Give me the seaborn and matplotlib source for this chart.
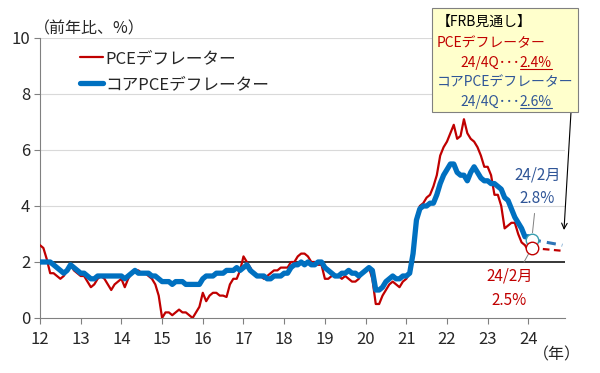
import pandas as pd
import seaborn as sns
import matplotlib.pyplot as plt
from matplotlib.patches import Rectangle

# monthly y/y change, Jan 2012 - Feb 2024
months = pd.date_range("2012-01-01", "2024-02-01", freq="MS")

pce = [
    2.6, 2.5, 2.1, 1.6, 1.6, 1.5, 1.4, 1.5, 1.7, 1.9, 1.7, 1.6,   # 2012
    1.5, 1.5, 1.3, 1.1, 1.2, 1.4, 1.5, 1.4, 1.2, 1.0, 1.2, 1.3,   # 2013
    1.4, 1.1, 1.4, 1.6, 1.7, 1.7, 1.6, 1.6, 1.5, 1.4, 1.2, 0.8,   # 2014
    0.0, 0.2, 0.2, 0.1, 0.2, 0.3, 0.2, 0.2, 0.1, 0.0, 0.2, 0.4,   # 2015
    0.9, 0.6, 0.8, 0.9, 0.9, 0.8, 0.8, 0.75, 1.2, 1.4, 1.4, 1.7,  # 2016
    2.2, 2.0, 1.8, 1.6, 1.5, 1.5, 1.4, 1.5, 1.6, 1.7, 1.7, 1.8,   # 2017
    1.8, 1.8, 2.0, 2.0, 2.2, 2.3, 2.3, 2.2, 2.0, 2.0, 1.9, 1.9,   # 2018
    1.4, 1.4, 1.5, 1.5, 1.5, 1.4, 1.5, 1.4, 1.3, 1.3, 1.4, 1.6,   # 2019
    1.7, 1.8, 1.4, 0.5, 0.5, 0.8, 1.0, 1.2, 1.3, 1.2, 1.1, 1.3,   # 2020
    1.4, 1.6, 2.5, 3.6, 4.0, 4.1, 4.3, 4.4, 4.7, 5.1, 5.8, 6.1,   # 2021
    6.3, 6.6, 6.9, 6.4, 6.5, 7.1, 6.6, 6.4, 6.3, 6.1, 5.8, 5.4,   # 2022
    5.4, 5.1, 4.4, 4.4, 4.0, 3.2, 3.3, 3.4, 3.4, 3.0, 2.7, 2.6,   # 2023
    2.4, 2.5,                                                     # 2024
]
core = [
    2.0, 2.0, 2.0, 2.0, 1.9, 1.8, 1.7, 1.6, 1.7, 1.9, 1.8, 1.7,   # 2012
    1.6, 1.6, 1.5, 1.4, 1.4, 1.5, 1.5, 1.5, 1.5, 1.5, 1.5, 1.5,   # 2013
    1.5, 1.4, 1.5, 1.6, 1.7, 1.6, 1.6, 1.6, 1.6, 1.5, 1.5, 1.4,   # 2014
    1.3, 1.3, 1.3, 1.2, 1.3, 1.3, 1.3, 1.2, 1.2, 1.2, 1.2, 1.2,   # 2015
    1.4, 1.5, 1.5, 1.5, 1.6, 1.6, 1.6, 1.7, 1.7, 1.7, 1.8, 1.7,   # 2016
    1.8, 1.9, 1.7, 1.6, 1.5, 1.5, 1.5, 1.4, 1.4, 1.5, 1.5, 1.5,   # 2017
    1.6, 1.6, 1.8, 1.9, 1.9, 2.0, 1.9, 2.0, 1.9, 1.9, 2.0, 2.0,   # 2018
    1.8, 1.7, 1.6, 1.5, 1.5, 1.6, 1.6, 1.7, 1.6, 1.6, 1.5, 1.6,   # 2019
    1.7, 1.8, 1.7, 1.0, 1.0, 1.1, 1.3, 1.4, 1.5, 1.4, 1.4, 1.5,   # 2020
    1.5, 1.6, 2.3, 3.5, 3.9, 4.0, 4.0, 4.1, 4.1, 4.4, 4.8, 5.1,   # 2021
    5.3, 5.5, 5.5, 5.2, 5.1, 5.1, 4.9, 5.2, 5.4, 5.2, 5.0, 4.9,   # 2022
    4.9, 4.8, 4.8, 4.7, 4.6, 4.3, 4.2, 3.9, 3.6, 3.4, 3.2, 2.9,   # 2023
    2.9, 2.8,                                                     # 2024
]

# FRB outlook: Feb 2024 actual -> 24/4Q
fc_dates = pd.to_datetime(["2024-02-01", "2024-11-01"])
pce_fc = [2.5, 2.4]
core_fc = [2.8, 2.6]

year_ticks = list(range(12, 25))
y_ticks = [0, 2, 4, 6, 8, 10]

RED = "#C00000"
BLUE = "#0070C0"
TXT_BLUE = "#2F5597"


def to_x(dates):
    return (dates.year - 2000) + (dates.month - 1) / 12


df = pd.DataFrame({"x": to_x(months), "pce": pce, "core": core})
fc = pd.DataFrame({"x": to_x(fc_dates), "pce": pce_fc, "core": core_fc})

sns.set_style("white")
plt.rcParams["font.family"] = ["Noto Sans CJK JP", "DejaVu Sans"]

W, H = 600, 373
fig = plt.figure(figsize=(6, 3.73), dpi=100)
ax = fig.add_axes([40 / W, 1 - 318 / H, 525 / W, 280 / H])


def fpos(px, py):
    return px / W, 1 - py / H


for yv in y_ticks[2:]:
    ax.axhline(yv, color="#D9D9D9", lw=0.8, zorder=0)
ax.axhline(2, color="black", lw=1.1, zorder=1)

sns.lineplot(data=df, x="x", y="pce", ax=ax, color=RED, lw=1.6,
             label="PCEデフレーター", zorder=3)
sns.lineplot(data=df, x="x", y="core", ax=ax, color=BLUE, lw=3.8,
             label="コアPCEデフレーター", zorder=4)
sns.lineplot(data=fc, x="x", y="pce", ax=ax, color=RED, lw=1.6,
             linestyle=(0, (3, 2)), zorder=3, legend=False)
sns.lineplot(data=fc, x="x", y="core", ax=ax, color="#2E75B6", lw=2.2,
             linestyle=(0, (3, 2)), zorder=4, legend=False)

# latest points
ax.plot(fc["x"].iloc[0], core_fc[0], "o", ms=9, mfc="white",
        mec="#3A9FB0", mew=1.0, zorder=6)
ax.plot(fc["x"].iloc[0], pce_fc[0], "o", ms=9, mfc="white",
        mec=RED, mew=1.0, zorder=6)

ax.annotate(f"24/2月\n{core_fc[0]}%", xy=(fc["x"].iloc[0], core_fc[0]),
            xytext=(4, 38), textcoords="offset points", ha="center",
            va="center", fontsize=11, color=TXT_BLUE, linespacing=1.55,
            arrowprops=dict(arrowstyle="-", color="#808080", lw=0.7,
                            shrinkA=2, shrinkB=5))
ax.annotate(f"24/2月\n{pce_fc[0]}%", xy=(fc["x"].iloc[0], pce_fc[0]),
            xytext=(-16, -29), textcoords="offset points", ha="center",
            va="center", fontsize=11, color=RED, linespacing=1.55,
            arrowprops=dict(arrowstyle="-", color="#808080", lw=0.7,
                            shrinkA=2, shrinkB=5))

ax.set_xlim(12, 24.9)
ax.set_ylim(0, 10)
ax.set_xticks(year_ticks)
ax.set_xticklabels([str(y) for y in year_ticks])
ax.set_yticks(y_ticks)
ax.set_xlabel("")
ax.set_ylabel("")
ax.tick_params(axis="both", labelsize=12, length=4, color="#808080",
               direction="out", pad=3, bottom=True, left=True)
ax.tick_params(axis="x", pad=5)
for s in ["top", "right"]:
    ax.spines[s].set_visible(False)
for s in ["left", "bottom"]:
    ax.spines[s].set_color("#808080")
    ax.spines[s].set_linewidth(0.8)

ax.legend(loc="upper left", bbox_to_anchor=fpos(80, 50),
          bbox_transform=fig.transFigure, frameon=False, fontsize=12,
          handlelength=1.4, handletextpad=0.15, labelspacing=0.55,
          borderpad=0, borderaxespad=0)

fig.text(*fpos(34, 29), "（前年比、%）", fontsize=11.5, va="center", ha="left")
fig.text(*fpos(557, 355), "（年）", fontsize=11.5, va="center", ha="center")

# FRB outlook box
bx0, by0 = fpos(432, 112)
fig.add_artist(Rectangle((bx0, by0), 146 / W, 104 / H,
                         transform=fig.transFigure, facecolor="#FFFFCC",
                         edgecolor="#808080", lw=0.8, zorder=5))
box_lines = [
    (437, 22, "【FRB見通し】", "black", None),
    (437, 43, "PCEデフレーター", RED, None),
    (460, 63, "24/4Q･･･", RED, f"{pce_fc[1]}%"),
    (437, 82, "コアPCEデフレーター", TXT_BLUE, None),
    (460, 102, "24/4Q･･･", TXT_BLUE, f"{core_fc[1]}%"),
]
fig.canvas.draw()
renderer = fig.canvas.get_renderer()
for px, py, txt, col, tail in box_lines:
    t = fig.text(*fpos(px, py), txt, fontsize=10, color=col,
                 va="center", ha="left", zorder=6)
    if tail:
        bb = t.get_window_extent(renderer)
        t2 = fig.text(bb.x1 / W, 1 - py / H, tail, fontsize=10, color=col,
                      va="center", ha="left", zorder=6)
        bb2 = t2.get_window_extent(renderer)
        uy = bb2.y0 / H + 1.5 / H
        fig.add_artist(plt.Line2D([bb2.x0 / W, bb2.x1 / W], [uy, uy],
                                  transform=fig.transFigure, color=col,
                                  lw=0.8, zorder=6))

ax.annotate("", xy=fpos(564, 230), xytext=fpos(571, 112),
            xycoords="figure fraction", textcoords="figure fraction",
            arrowprops=dict(arrowstyle="->", color="black", lw=0.8,
                            shrinkA=0, shrinkB=0), zorder=7)

fig.savefig("out.png", dpi=100)
